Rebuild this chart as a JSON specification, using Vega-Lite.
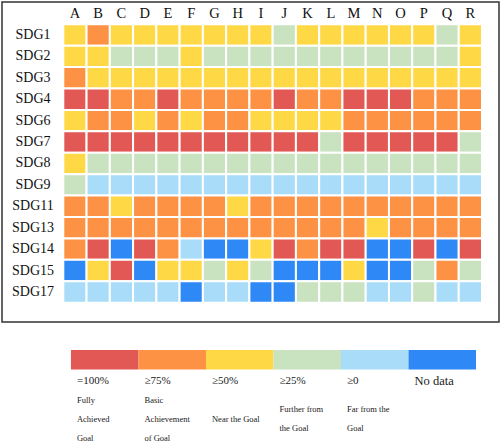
{
  "$schema": "https://vega.github.io/schema/vega-lite/v6.json",
  "padding": {"left": 1, "top": 1, "right": 2, "bottom": 0},
  "config": {"font": "Liberation Serif", "view": {"stroke": null}, "concat": {"spacing": 27}},
  "vconcat": [
    {
      "width": 497,
      "height": 320,
      "view": {"stroke": "#333333", "strokeWidth": 1.5},
      "data": {"values": [
        {"sdg":"SDG1","A":"Y","B":"O","C":"Y","D":"Y","E":"Y","F":"Y","G":"Y","H":"Y","I":"Y","J":"G","K":"Y","L":"Y","M":"Y","N":"Y","O":"Y","P":"Y","Q":"G","R":"Y"},
        {"sdg":"SDG2","A":"Y","B":"Y","C":"G","D":"G","E":"G","F":"Y","G":"G","H":"G","I":"G","J":"G","K":"G","L":"G","M":"G","N":"G","O":"G","P":"G","Q":"G","R":"Y"},
        {"sdg":"SDG3","A":"O","B":"Y","C":"Y","D":"Y","E":"Y","F":"Y","G":"Y","H":"Y","I":"Y","J":"Y","K":"Y","L":"Y","M":"Y","N":"Y","O":"Y","P":"Y","Q":"Y","R":"Y"},
        {"sdg":"SDG4","A":"R","B":"R","C":"O","D":"O","E":"R","F":"O","G":"O","H":"O","I":"O","J":"R","K":"O","L":"O","M":"R","N":"R","O":"R","P":"O","Q":"O","R":"O"},
        {"sdg":"SDG6","A":"Y","B":"O","C":"O","D":"Y","E":"O","F":"Y","G":"O","H":"O","I":"Y","J":"Y","K":"Y","L":"Y","M":"O","N":"O","O":"O","P":"O","Q":"O","R":"O"},
        {"sdg":"SDG7","A":"R","B":"R","C":"R","D":"R","E":"R","F":"R","G":"R","H":"R","I":"R","J":"R","K":"R","L":"G","M":"R","N":"R","O":"R","P":"R","Q":"R","R":"G"},
        {"sdg":"SDG8","A":"Y","B":"G","C":"G","D":"G","E":"G","F":"G","G":"G","H":"G","I":"G","J":"G","K":"G","L":"G","M":"G","N":"G","O":"G","P":"G","Q":"G","R":"G"},
        {"sdg":"SDG9","A":"G","B":"L","C":"L","D":"L","E":"L","F":"L","G":"L","H":"L","I":"L","J":"L","K":"L","L":"L","M":"L","N":"L","O":"L","P":"L","Q":"L","R":"L"},
        {"sdg":"SDG11","A":"O","B":"O","C":"Y","D":"O","E":"O","F":"O","G":"O","H":"Y","I":"O","J":"O","K":"O","L":"O","M":"O","N":"O","O":"O","P":"O","Q":"O","R":"O"},
        {"sdg":"SDG13","A":"O","B":"O","C":"O","D":"O","E":"O","F":"O","G":"O","H":"O","I":"O","J":"O","K":"O","L":"O","M":"O","N":"Y","O":"O","P":"O","Q":"O","R":"O"},
        {"sdg":"SDG14","A":"O","B":"R","C":"B","D":"R","E":"O","F":"L","G":"B","H":"B","I":"Y","J":"R","K":"O","L":"R","M":"R","N":"B","O":"B","P":"R","Q":"B","R":"R"},
        {"sdg":"SDG15","A":"B","B":"Y","C":"R","D":"B","E":"Y","F":"Y","G":"G","H":"Y","I":"G","J":"B","K":"B","L":"B","M":"Y","N":"B","O":"B","P":"G","Q":"O","R":"G"},
        {"sdg":"SDG17","A":"L","B":"L","C":"L","D":"L","E":"L","F":"B","G":"L","H":"L","I":"B","J":"B","K":"G","L":"G","M":"G","N":"L","O":"L","P":"G","Q":"L","R":"L"}
      ]},
      "transform": [{"fold": ["A","B","C","D","E","F","G","H","I","J","K","L","M","N","O","P","Q","R"], "as": ["col", "level"]}],
      "mark": {"type": "rect", "stroke": "white", "strokeWidth": 2},
      "encoding": {
        "x": {"field": "col", "type": "nominal",
          "scale": {"type": "band", "paddingInner": 0, "paddingOuter": 0, "range": [61.3, 480]},
          "axis": {"orient": "top", "title": null, "offset": -15.7, "labelPadding": 0, "ticks": false, "tickSize": 0, "domain": false, "labelAngle": 0, "labelBaseline": "alphabetic", "labelFontSize": 14.5, "labelColor": "#111111", "labelFont": "Liberation Serif"}},
        "y": {"field": "sdg", "type": "nominal",
          "scale": {"domain": ["SDG1","SDG2","SDG3","SDG4","SDG6","SDG7","SDG8","SDG9","SDG11","SDG13","SDG14","SDG15","SDG17"], "paddingInner": 0, "paddingOuter": 0.971, "align": 0.536},
          "axis": {"orient": "left", "title": null, "offset": -30.5, "labelPadding": 0, "ticks": false, "tickSize": 0, "domain": false, "labelAlign": "center", "labelBaseline": "middle", "labelFontSize": 14, "labelColor": "#111111", "labelFont": "Liberation Serif"}},
        "color": {"field": "level", "type": "nominal",
          "scale": {"domain": ["R","O","Y","G","L","B"], "range": ["#E25854","#FD9144","#FFD945","#C9E2C0","#A9DCF8","#2E88F6"]},
          "legend": null}
      }
    },
    {
      "spacing": 0,
      "data": {"values": [
        {"code": "R", "pct": "=100%", "desc": "Fully\nAchieved\nGoal", "lines": 3},
        {"code": "O", "pct": "≥75%", "desc": "Basic\nAchievement\nof Goal", "lines": 3},
        {"code": "Y", "pct": "≥50%", "desc": "Near the Goal", "lines": 1},
        {"code": "G", "pct": "≥25%", "desc": "Further from\nthe Goal", "lines": 2},
        {"code": "L", "pct": "≥0", "desc": "Far from the\nGoal", "lines": 2},
        {"code": "B", "pct": "No data", "desc": "", "lines": 1}
      ]},
      "vconcat": [
        {
          "width": 497,
          "height": 19.5,
          "mark": "rect",
          "encoding": {
            "x": {"field": "code", "type": "nominal", "axis": null,
              "scale": {"type": "band", "domain": ["R","O","Y","G","L","B"], "paddingInner": 0, "paddingOuter": 0.681, "align": 0.75}},
            "color": {"field": "code", "type": "nominal",
              "scale": {"domain": ["R","O","Y","G","L","B"], "range": ["#E25854","#FD9144","#FFD945","#C9E2C0","#A9DCF8","#2E88F6"]},
              "legend": null}
          }
        },
        {
          "width": 497,
          "height": 22,
          "mark": {"type": "text", "align": "left", "baseline": "middle", "dx": 6, "color": "#1a1a1a", "font": "Liberation Serif"},
          "encoding": {
            "x": {"field": "code", "type": "nominal", "axis": null, "bandPosition": 0,
              "scale": {"type": "band", "domain": ["R","O","Y","G","L","B"], "paddingInner": 0, "paddingOuter": 0.681, "align": 0.75}},
            "text": {"field": "pct"},
            "size": {"condition": {"test": "datum.code === 'B'", "value": 12.5}, "value": 11}
          }
        },
        {
          "width": 497,
          "height": 38,
          "mark": {"type": "text", "align": "left", "baseline": "middle", "dx": 6, "lineBreak": "\n", "lineHeight": 19, "fontSize": 8.5, "color": "#1a1a1a", "font": "Liberation Serif"},
          "encoding": {
            "x": {"field": "code", "type": "nominal", "axis": null, "bandPosition": 0,
              "scale": {"type": "band", "domain": ["R","O","Y","G","L","B"], "paddingInner": 0, "paddingOuter": 0.681, "align": 0.75}},
            "y": {"field": "lines", "type": "ordinal", "axis": null,
              "scale": {"type": "point", "domain": [3, 2, 1], "padding": 1, "align": 0.4}},
            "text": {"field": "desc"}
          }
        }
      ]
    }
  ]
}
